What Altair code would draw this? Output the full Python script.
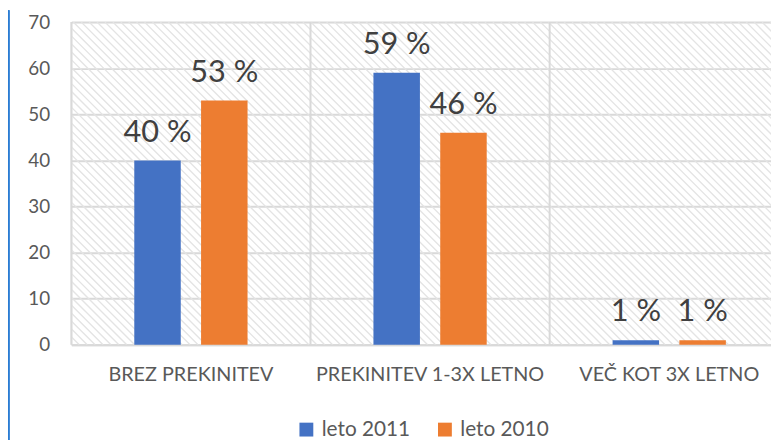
import altair as alt
import pandas as pd
import numpy as np

categories = ["BREZ PREKINITEV", "PREKINITEV 1-3X LETNO", "VEČ KOT 3X LETNO"]
series = ["leto 2011", "leto 2010"]
values_2011 = [40, 59, 1]
values_2010 = [53, 46, 1]
y_ticks = [0, 10, 20, 30, 40, 50, 60, 70]
colors = ["#4472C4", "#ED7D31"]

rows = []
for c, a, b in zip(categories, values_2011, values_2010):
    rows.append({"cat": c, "series": series[0], "value": a, "label": f"{a} %"})
    rows.append({"cat": c, "series": series[1], "value": b, "label": f"{b} %"})
df = pd.DataFrame(rows)
cat_df = pd.DataFrame({"cat": categories})

W = 707
H = 326
FULL = 725
FONT = "Lato"

# decorative hatch of the plot background
x0 = np.arange(-H, W + 8, 8)
hatch = pd.DataFrame({"hx": x0, "hx2": x0 + H, "hy": 0, "hy2": H})

xscale = alt.Scale(domain=categories, range=[0, FULL], paddingInner=0, paddingOuter=0)
yscale = alt.Scale(domain=[0, 70], nice=False)
xaxis = alt.Axis(labelAngle=0, ticks=False, domain=True, domainColor="#d9d9d9",
                 domainWidth=2, grid=False, labelFontSize=20, labelColor="#595959",
                 labelFont=FONT, labelPadding=20, bandPosition=0.5, labelLimit=0)
yaxis = alt.Axis(values=y_ticks, domain=False, ticks=False, grid=True,
                 gridColor="#d9d9d9", gridWidth=2, labelFontSize=19,
                 labelColor="#595959", labelFont=FONT, labelPadding=22)
offscale = alt.Scale(paddingInner=0.304, paddingOuter=0.9425)

hatch_layer = alt.Chart(hatch).mark_rule(color="#e4e4e4", strokeWidth=1.4, clip=True).encode(
    x=alt.X("hx:Q", scale=None, axis=None),
    x2="hx2:Q",
    y=alt.Y("hy:Q", scale=None, axis=None),
    y2="hy2:Q",
)

bars = alt.Chart(df).mark_bar().encode(
    x=alt.X("cat:N", sort=categories, scale=xscale, title=None, axis=xaxis),
    xOffset=alt.XOffset("series:N", sort=series, scale=offscale),
    y=alt.Y("value:Q", scale=yscale, title=None, axis=yaxis),
    color=alt.Color("series:N", sort=series, scale=alt.Scale(domain=series, range=colors),
                    legend=alt.Legend(title=None, orient="none", direction="horizontal",
                                      legendX=227, legendY=401, symbolType="square",
                                      symbolSize=196, symbolStrokeWidth=0, labelFontSize=21,
                                      labelFont=FONT, labelColor="#595959", labelOffset=5,
                                      columnPadding=24)),
)

texts = alt.Chart(df).mark_text(baseline="alphabetic", dy=-19, fontSize=31, font=FONT,
                                color="#404040").encode(
    x=alt.X("cat:N", sort=categories, scale=xscale, title=None, axis=xaxis),
    xOffset=alt.XOffset("series:N", sort=series, scale=offscale),
    y=alt.Y("value:Q", scale=yscale, title=None, axis=yaxis),
    text="label:N",
)

seps = alt.Chart(cat_df).mark_rule(color="#d9d9d9", strokeWidth=2).encode(
    x=alt.X("cat:N", sort=categories, scale=xscale, bandPosition=0, title=None, axis=xaxis),
    y=alt.value(0),
    y2=alt.value(H),
)

border = alt.Chart(cat_df).mark_rule(color="#2B7CD3", strokeWidth=2).encode(
    x=alt.value(-63.5),
    y=alt.value(-12),
    y2=alt.value(H + 110),
)

chart = alt.layer(hatch_layer, bars, seps, texts, border).properties(
    width=W, height=H,
    autosize=alt.AutoSizeParams(type="none"),
    padding={"left": 64, "top": 12, "right": 0, "bottom": 94},
).configure_view(stroke=None).configure(background="white")

chart.save("out.html", embed_options={"renderer": "svg", "actions": False})
